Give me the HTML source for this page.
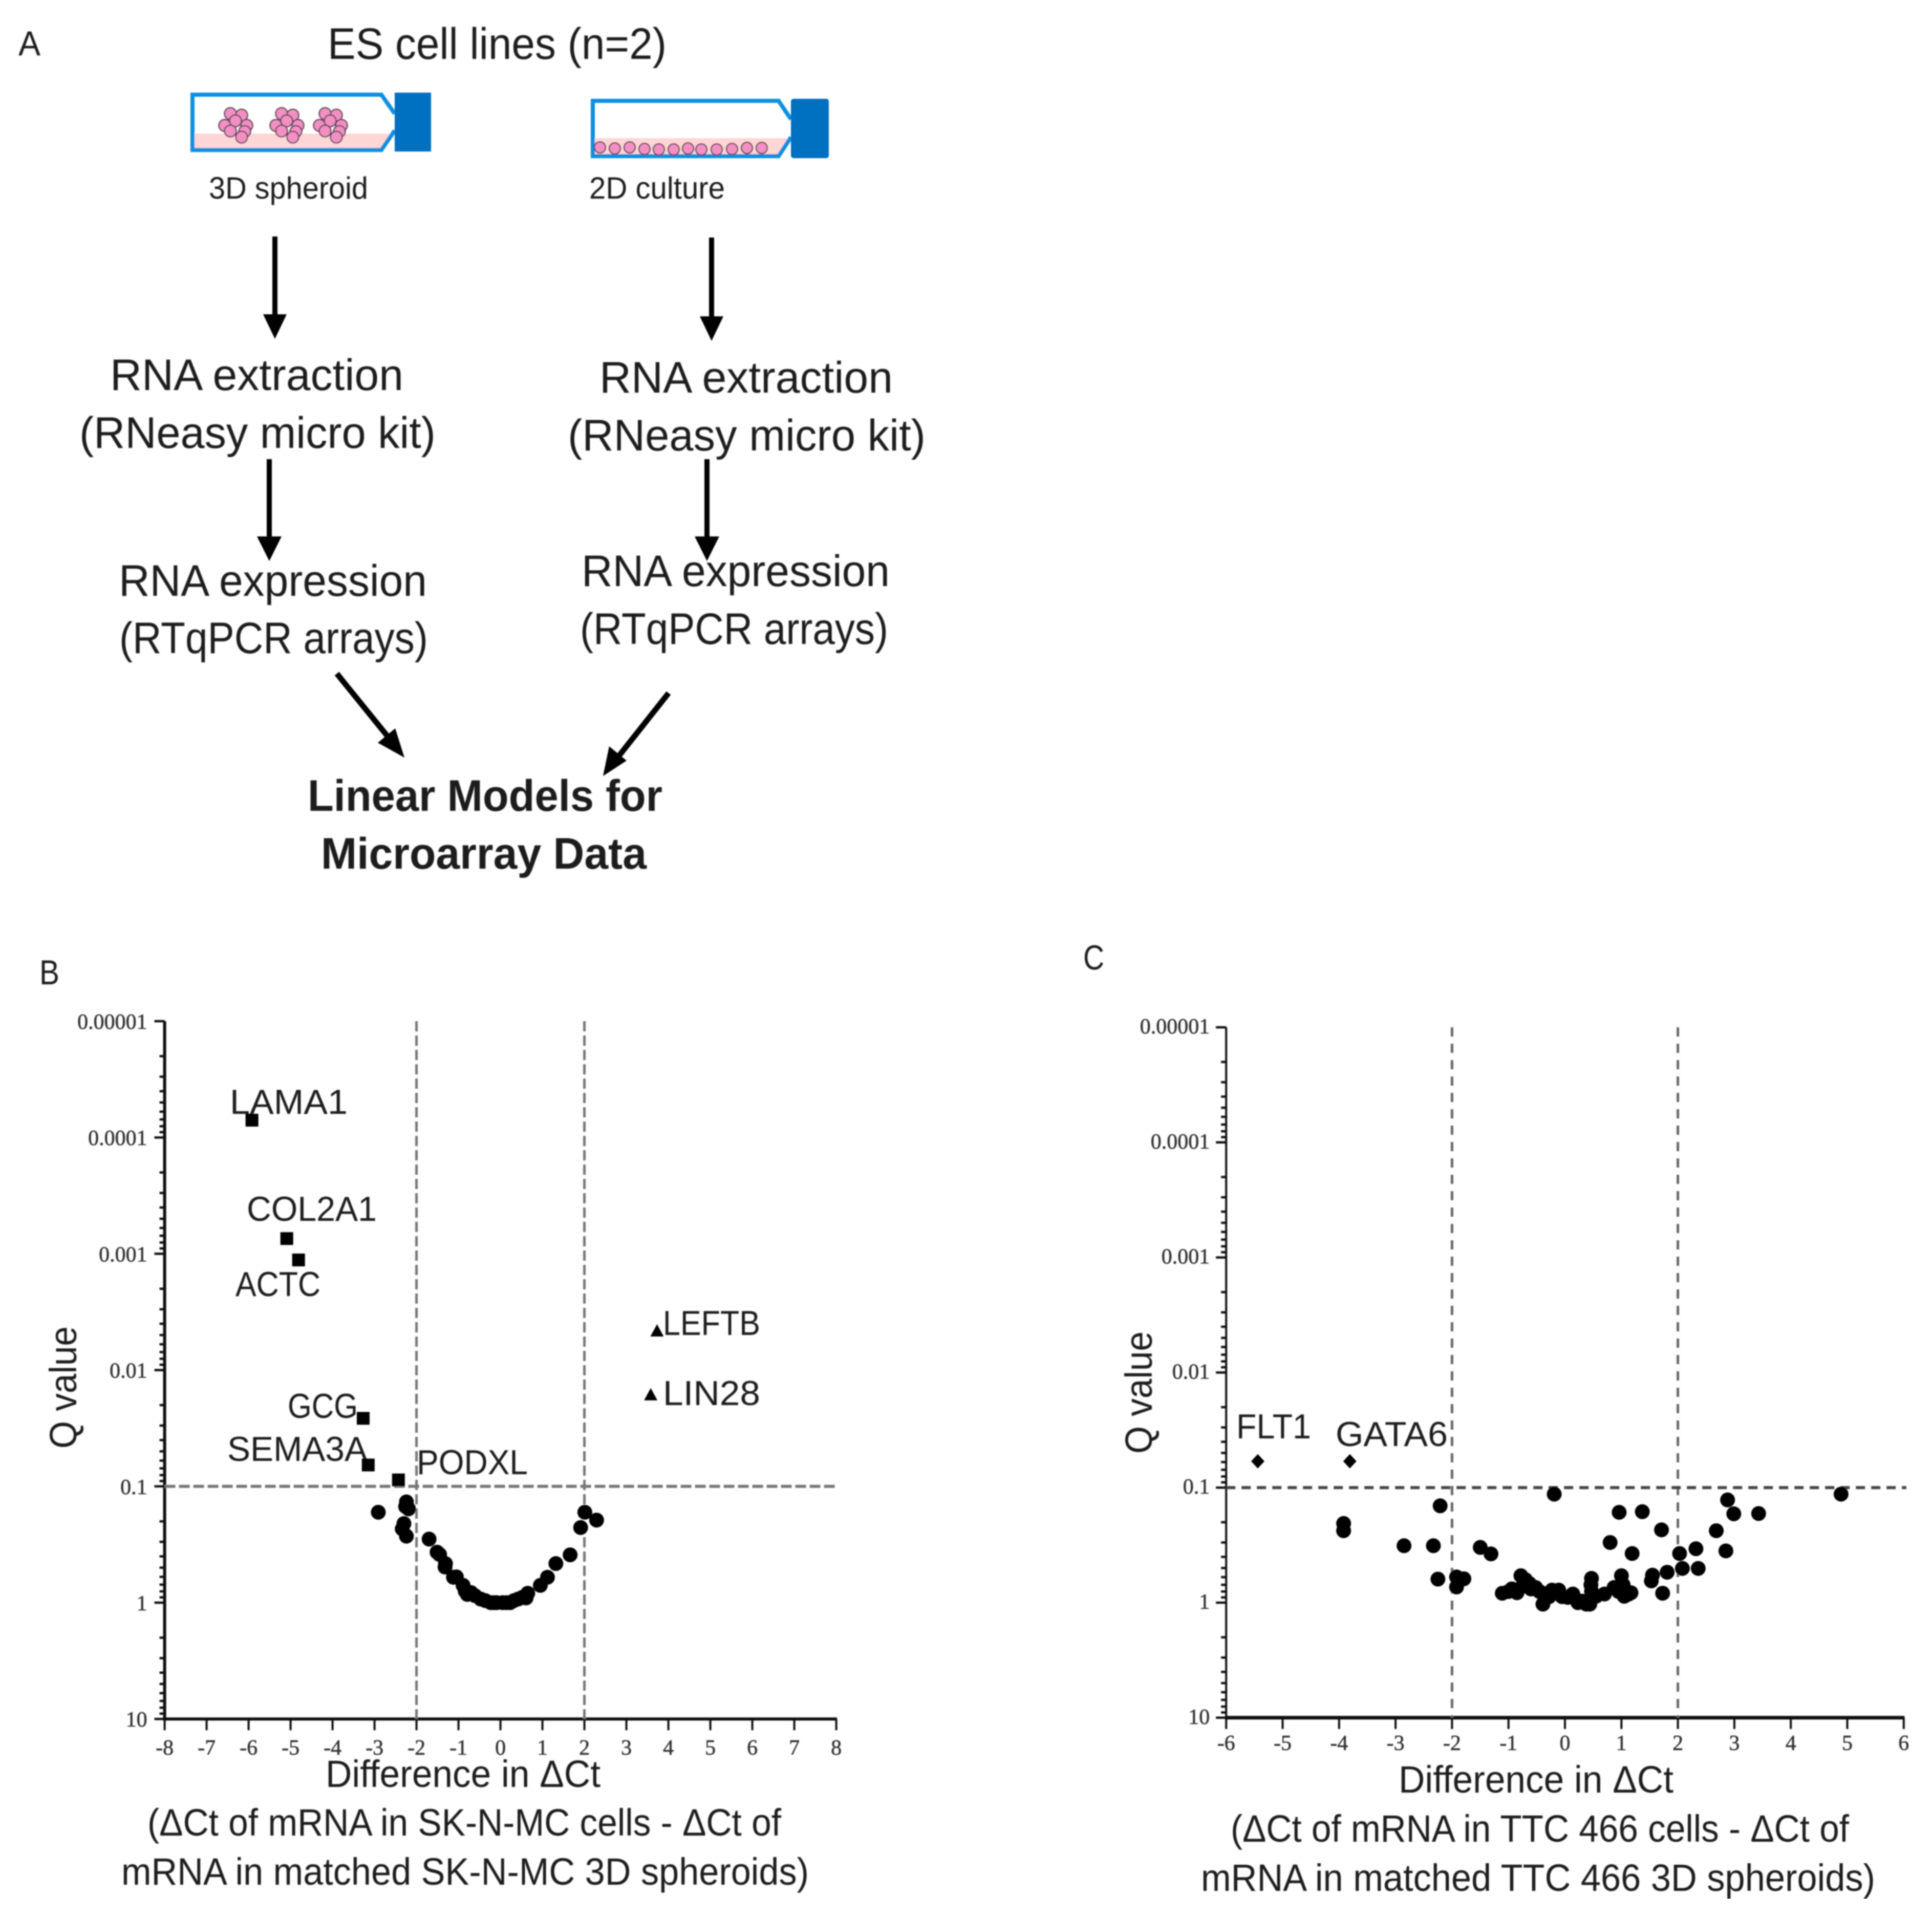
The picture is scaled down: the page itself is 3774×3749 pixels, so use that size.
<!DOCTYPE html>
<html lang="en">
<head>
<meta charset="utf-8">
<title>ES cell line workflow and volcano plots</title>
<style>
html,body{margin:0;padding:0;background:#fff;width:3774px;height:3749px;overflow:hidden}
svg{display:block}
text{font-family:"Liberation Sans","DejaVu Sans",sans-serif;fill:#1a1a1a}
.tick{font-family:"Liberation Serif","DejaVu Serif",serif;font-size:42px;fill:#333;stroke:#333;stroke-width:.6px}
.t80{font-size:86px}.t74{font-size:74px}.t68{font-size:68px}.t60{font-size:60px}
</style>
</head>
<body>
<svg id="figure" xmlns="http://www.w3.org/2000/svg" width="3774" height="3749" viewBox="0 0 3774 3749">
<defs>
  <filter id="soft" x="0" y="0" width="100%" height="100%"><feGaussianBlur stdDeviation="1.4"/></filter>
  <g id="cluster">
    <circle cx="-10" cy="-23" r="11.5"/><circle cx="12" cy="-20" r="11.5"/><circle cx="0" cy="-9" r="11.5"/>
    <circle cx="-21" cy="0" r="11.5"/><circle cx="22" cy="0" r="11.5"/><circle cx="-10" cy="11" r="11.5"/>
    <circle cx="18" cy="12" r="11.5"/><circle cx="12" cy="23" r="11.5"/>
  </g>
</defs>
<rect width="3774" height="3749" fill="#fff"/>
<g id="root" filter="url(#soft)">

<!-- Panel A -->
<g>
  <text x="36" y="108" class="t68" textLength="43" lengthAdjust="spacingAndGlyphs">A</text>
  <text x="640" y="115" class="t80" textLength="662" lengthAdjust="spacingAndGlyphs">ES cell lines (n=2)</text>

  <g>
    <polygon points="378,261 771,261 771,262 747,293 378,293" fill="#ffd6d6"/>
    <path d="M771,222 L745,185 L376,185 L376,293 L745,293 L771,255" fill="none" stroke="#0e8fe0" stroke-width="8"/>
    <rect x="771" y="181" width="71" height="115" fill="#0070c0"/>
    <g fill="#f48fc4" stroke="#5a4a55" stroke-width="2.5">
      <use href="#cluster" x="460" y="245"/><use href="#cluster" x="560" y="245"/><use href="#cluster" x="645" y="245"/>
    </g>
  </g>
  <text x="408" y="388" class="t60" textLength="311" lengthAdjust="spacingAndGlyphs">3D spheroid</text>

  <g>
    <polygon points="1160,270 1545,270 1545,272 1521,305 1160,305" fill="#ffd6d6"/>
    <path d="M1545,233 L1521,197 L1158,197 L1158,305 L1521,305 L1545,268" fill="none" stroke="#0e8fe0" stroke-width="8"/>
    <rect x="1545" y="193" width="74" height="116" rx="5" fill="#0070c0"/>
    <g fill="#f48fc4" stroke="#5a4a55" stroke-width="2.5">
      <circle cx="1172" cy="288" r="11"/><circle cx="1201" cy="290" r="11"/><circle cx="1230" cy="288" r="11"/>
      <circle cx="1259" cy="291" r="11"/><circle cx="1287" cy="292" r="11"/><circle cx="1316" cy="292" r="11"/>
      <circle cx="1344" cy="290" r="11"/><circle cx="1370" cy="292" r="11"/><circle cx="1400" cy="292" r="11"/>
      <circle cx="1430" cy="291" r="11"/><circle cx="1459" cy="289" r="11"/><circle cx="1488" cy="289" r="11"/>
    </g>
  </g>
  <text x="1151" y="388" class="t60" textLength="265" lengthAdjust="spacingAndGlyphs">2D culture</text>

  <g fill="#000" stroke="none">
    <rect x="532" y="462" width="10" height="156"/><polygon points="514,614 560,614 537,662"/>
    <rect x="1385" y="464" width="10" height="158"/><polygon points="1367,618 1413,618 1390,666"/>
    <rect x="521" y="897" width="10" height="155"/><polygon points="502,1048 550,1048 526,1096"/>
    <rect x="1376" y="897" width="10" height="155"/><polygon points="1357,1048 1405,1048 1381,1096"/>
    <line x1="658" y1="1316" x2="760" y2="1442" stroke="#000" stroke-width="11"/><polygon points="790,1480 738,1451 772,1423"/>
    <line x1="1306" y1="1354" x2="1208" y2="1478" stroke="#000" stroke-width="11"/><polygon points="1178,1516 1190,1458 1224,1486"/>
  </g>

  <text x="215" y="762" class="t80" textLength="573" lengthAdjust="spacingAndGlyphs">RNA extraction</text>
  <text x="155" y="875" class="t80" textLength="696" lengthAdjust="spacingAndGlyphs">(RNeasy micro kit)</text>
  <text x="1171" y="767" class="t80" textLength="573" lengthAdjust="spacingAndGlyphs">RNA extraction</text>
  <text x="1109" y="880" class="t80" textLength="699" lengthAdjust="spacingAndGlyphs">(RNeasy micro kit)</text>
  <text x="232" y="1164" class="t80" textLength="602" lengthAdjust="spacingAndGlyphs">RNA expression</text>
  <text x="233" y="1276" class="t80" textLength="603" lengthAdjust="spacingAndGlyphs">(RTqPCR arrays)</text>
  <text x="1136" y="1145" class="t80" textLength="602" lengthAdjust="spacingAndGlyphs">RNA expression</text>
  <text x="1133" y="1258" class="t80" textLength="602" lengthAdjust="spacingAndGlyphs">(RTqPCR arrays)</text>
  <text x="601" y="1584" class="t80" font-weight="700" textLength="693" lengthAdjust="spacingAndGlyphs">Linear Models for</text>
  <text x="627" y="1697" class="t80" font-weight="700" textLength="636" lengthAdjust="spacingAndGlyphs">Microarray Data</text>
</g>

<!-- Panel B static text -->
<g>
  <text x="77" y="1923" class="t68" textLength="39" lengthAdjust="spacingAndGlyphs">B</text>
  <text transform="translate(149 2830) rotate(-90)" class="t74" textLength="239" lengthAdjust="spacingAndGlyphs">Q value</text>
  <text x="636" y="3491" class="t74" textLength="537" lengthAdjust="spacingAndGlyphs">Difference in ΔCt</text>
  <text x="288" y="3586" class="t74" textLength="1238" lengthAdjust="spacingAndGlyphs">(ΔCt of mRNA in SK-N-MC cells - ΔCt of</text>
  <text x="237" y="3682" class="t74" textLength="1343" lengthAdjust="spacingAndGlyphs">mRNA in matched SK-N-MC 3D spheroids)</text>
  <text x="449" y="2176" class="t68" textLength="230" lengthAdjust="spacingAndGlyphs">LAMA1</text>
  <text x="482" y="2385" class="t68" textLength="254" lengthAdjust="spacingAndGlyphs">COL2A1</text>
  <text x="460" y="2532" class="t68" textLength="166" lengthAdjust="spacingAndGlyphs">ACTC</text>
  <text x="562" y="2770" class="t68" textLength="137" lengthAdjust="spacingAndGlyphs">GCG</text>
  <text x="444" y="2854" class="t68" textLength="274" lengthAdjust="spacingAndGlyphs">SEMA3A</text>
  <text x="814" y="2880" class="t68" textLength="217" lengthAdjust="spacingAndGlyphs">PODXL</text>
  <text x="1295" y="2608" class="t68" textLength="190" lengthAdjust="spacingAndGlyphs">LEFTB</text>
  <text x="1295" y="2745" class="t68" textLength="190" lengthAdjust="spacingAndGlyphs">LIN28</text>
</g>

<!-- Panel C static text -->
<g>
  <text x="2116" y="1894" class="t68" textLength="41" lengthAdjust="spacingAndGlyphs">C</text>
  <text transform="translate(2250 2840) rotate(-90)" class="t74" textLength="239" lengthAdjust="spacingAndGlyphs">Q value</text>
  <text x="2732" y="3502" class="t74" textLength="537" lengthAdjust="spacingAndGlyphs">Difference in ΔCt</text>
  <text x="2404" y="3598" class="t74" textLength="1208" lengthAdjust="spacingAndGlyphs">(ΔCt of mRNA in TTC 466 cells - ΔCt of</text>
  <text x="2346" y="3694" class="t74" textLength="1317" lengthAdjust="spacingAndGlyphs">mRNA in matched TTC 466 3D spheroids)</text>
  <text x="2415" y="2810" class="t68" textLength="146" lengthAdjust="spacingAndGlyphs">FLT1</text>
  <text x="2609" y="2825" class="t68" textLength="219" lengthAdjust="spacingAndGlyphs">GATA6</text>
</g>

<g id="chart-b"></g>
<g id="chart-c"></g>
</g>
</svg>

<script>
// Shared axis labels
const qTickLabels = ["0.00001", "0.0001", "0.001", "0.01", "0.1", "1", "10"];
const qTickValues = [0.00001, 0.0001, 0.001, 0.01, 0.1, 1, 10];
const qThreshold = 0.1;
const foldThresholds = [-2, 2];

// Chart B data
const bXTicks = [-8, -7, -6, -5, -4, -3, -2, -1, 0, 1, 2, 3, 4, 5, 6, 7, 8];
const bSquareX = [-5.92, -5.09, -4.81, -3.27, -3.15, -2.43];
const bSquareQ = [0.000071, 0.00074, 0.00113, 0.026, 0.0655, 0.088];
const bTriangleX = [3.73, 3.58];
const bTriangleQ = [0.0046, 0.0163];
const bCircleX = [-2.91, -2.24, -2.19, -2.26, -2.30, -2.34, -2.24, -1.70, -1.51, -1.45, -1.31, -1.32, -1.12, -1.05, -0.89, -0.84, -0.79, -0.70, -0.61, -0.47, -0.36, -0.23, -0.15, -0.09, 0.05, 0.14, 0.23, 0.32, 0.42, 0.52, 0.61, 0.65, 0.95, 1.12, 1.32, 1.66, 1.91, 2.01, 2.29];
const bCircleQ = [0.167, 0.136, 0.156, 0.149, 0.209, 0.232, 0.268, 0.284, 0.368, 0.385, 0.461, 0.494, 0.605, 0.60, 0.71, 0.794, 0.849, 0.82, 0.869, 0.931, 0.96, 1.0, 1.0, 1.0, 1.0, 1.0, 1.0, 0.96, 0.931, 0.90, 0.91, 0.83, 0.71, 0.605, 0.461, 0.388, 0.226, 0.167, 0.195];

// Chart C data
const cXTicks = [-6, -5, -4, -3, -2, -1, 0, 1, 2, 3, 4, 5, 6];
const cDiamondX = [-5.44, -3.81];
const cDiamondQ = [0.059, 0.059];
const cCircleX = [-0.19, -2.21, -3.92, -3.92, -2.85, -2.33, -1.50, -1.31, -2.25, -1.92, -1.79, -1.92, -1.11, -0.94, -0.85, -0.78, -0.70, -0.63, -0.52, -0.39, -0.23, -0.28, -0.11, -0.05, 0.14, 0.23, 0.38, 0.47, 0.47, 0.44, 0.70, 0.87, 1.00, 1.03, 1.08, 1.13, 1.17, 0.80, 0.96, 1.37, 1.19, 1.71, 1.55, 1.53, 1.73, 1.81, 2.03, 2.08, 2.32, 2.36, 2.68, 2.85, 2.88, 2.99, 3.43, 4.89, -1.0, -0.75, -0.6, -0.45, -0.35, 0.05, 0.30, 0.46, 0.47, 0.55, 0.95, 1.05];
const cCircleQ = [0.114, 0.144, 0.205, 0.237, 0.32, 0.32, 0.331, 0.377, 0.624, 0.598, 0.62, 0.731, 0.828, 0.759, 0.82, 0.583, 0.631, 0.682, 0.738, 1.03, 0.778, 0.887, 0.778, 0.887, 0.841, 1.0, 1.03, 0.615, 0.798, 1.03, 0.841, 0.738, 0.583, 0.70, 0.863, 0.841, 0.82, 0.30, 0.164, 0.162, 0.374, 0.233, 0.577, 0.647, 0.828, 0.544, 0.374, 0.504, 0.34, 0.504, 0.237, 0.355, 0.128, 0.169, 0.168, 0.114, 0.80, 0.72, 0.76, 0.80, 0.84, 0.90, 0.97, 0.70, 0.92, 0.88, 0.80, 0.88];

const NS = "http://www.w3.org/2000/svg";

function mk(parent, tag, attrs, name) {
  const el = document.createElementNS(NS, tag);
  for (const k in attrs) el.setAttribute(k, attrs[k]);
  
  
  parent.appendChild(el);
  return el;
}

// Axis functions
const xB = v => 977.6 + v * 82.0;
const yB = q => 3131 + Math.log10(q) * 227.2;
const xC = v => 3057 + v * 110.3;
const yC = q => 3131 + Math.log10(q) * 224.8;

function drawFrame(g, prefix, x, y, xTicks, o) {
  const x0 = x(xTicks[0]), x1 = x(xTicks[xTicks.length - 1]);
  const yTop = y(qTickValues[0]), yBot = y(qTickValues[qTickValues.length - 1]);

  mk(g, 'line', {x1: x0, y1: yTop, x2: x0, y2: yBot + o.xw / 2, stroke: '#111', 'stroke-width': o.yw}, prefix + '-y-axis');
  mk(g, 'line', {x1: x0 - o.yw / 2, y1: yBot, x2: x1 + 1.5, y2: yBot, stroke: '#111', 'stroke-width': o.xw}, prefix + '-x-axis');

  qTickValues.forEach((q, i) => {
    mk(g, 'line', {x1: x0 - 20, y1: y(q), x2: x0, y2: y(q), stroke: '#111', 'stroke-width': 4.5}, prefix + '-y-major-tick');
    const t = mk(g, 'text', {x: x0 - o.labelGap, y: y(q) + o.yLabelDrop, 'text-anchor': 'end', class: 'tick'}, prefix + '-y-tick-label');
    t.textContent = qTickLabels[i];
    if (i < qTickValues.length - 1) {
      for (let m = 2; m <= 9; m++) {
        const yy = y(q * m);
        mk(g, 'line', {x1: x0 - 10, y1: yy, x2: x0, y2: yy, stroke: '#111', 'stroke-width': 4.5}, prefix + '-y-minor-tick');
      }
    }
  });

  xTicks.forEach(v => {
    mk(g, 'line', {x1: x(v), y1: yBot, x2: x(v), y2: yBot + 22, stroke: '#111', 'stroke-width': 4}, prefix + '-x-tick');
    const t = mk(g, 'text', {x: x(v), y: yBot + o.xLabelDrop, 'text-anchor': 'middle', class: 'tick'}, prefix + '-x-tick-label');
    t.textContent = String(v);
  });

  foldThresholds.forEach(v => {
    mk(g, 'line', {x1: x(v), y1: yTop, x2: x(v), y2: yBot, stroke: o.vColor, 'stroke-width': 5, 'stroke-dasharray': o.vDash}, prefix + '-fold-threshold-line');
  });
  mk(g, 'line', {x1: x0, y1: y(qThreshold), x2: x1 + o.hExtra, y2: y(qThreshold), stroke: o.hColor, 'stroke-width': o.hWidth, 'stroke-dasharray': o.hDash}, prefix + '-q-threshold-line');
}

function drawCircles(g, prefix, x, y, xs, qs) {
  xs.forEach((v, i) => {
    mk(g, 'circle', {cx: x(v), cy: y(qs[i]), r: 14.5, fill: '#000'}, prefix + '-gene-point');
  });
}

function drawSquares(g, prefix, x, y, xs, qs) {
  xs.forEach((v, i) => {
    mk(g, 'rect', {x: x(v) - 12.5, y: y(qs[i]) - 12.5, width: 25, height: 25, fill: '#000'}, prefix + '-down-gene-point');
  });
}

function drawTriangles(g, prefix, x, y, xs, qs) {
  xs.forEach((v, i) => {
    const cx = x(v), cy = y(qs[i]);
    mk(g, 'polygon', {points: [cx, cy - 13, cx + 13, cy + 11, cx - 13, cy + 11].join(' '), fill: '#000'}, prefix + '-up-gene-point');
  });
}

function drawDiamonds(g, prefix, x, y, xs, qs) {
  xs.forEach((v, i) => {
    const cx = x(v), cy = y(qs[i]);
    mk(g, 'polygon', {points: [cx, cy - 14, cx + 13, cy, cx, cy + 14, cx - 13, cy].join(' '), fill: '#000'}, prefix + '-down-gene-point');
  });
}

const gB = document.getElementById('chart-b');
drawFrame(gB, 'chart-b', xB, yB, bXTicks, {
  yw: 6, xw: 6, labelGap: 34, yLabelDrop: 15, xLabelDrop: 70, hExtra: 0,
  vColor: '#777', vDash: '20 8', hColor: '#777', hWidth: 6, hDash: '21 7'
});
drawSquares(gB, 'chart-b', xB, yB, bSquareX, bSquareQ);
drawTriangles(gB, 'chart-b', xB, yB, bTriangleX, bTriangleQ);
drawCircles(gB, 'chart-b', xB, yB, bCircleX, bCircleQ);

const gC = document.getElementById('chart-c');
drawFrame(gC, 'chart-c', xC, yC, cXTicks, {
  yw: 4, xw: 7, labelGap: 32, yLabelDrop: 12, xLabelDrop: 63, hExtra: 5,
  vColor: '#666', vDash: '18 14', hColor: '#444', hWidth: 6, hDash: '18 12'
});
drawDiamonds(gC, 'chart-c', xC, yC, cDiamondX, cDiamondQ);
drawCircles(gC, 'chart-c', xC, yC, cCircleX, cCircleQ);
</script>
</body>
</html>
